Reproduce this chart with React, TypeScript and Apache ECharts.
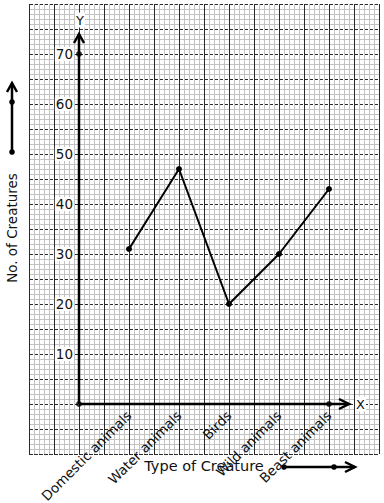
import React, { useEffect, useRef } from "react";
import * as echarts from "echarts";

const categories = ["Domestic animals", "Water animals", "Birds", "Wild animals", "Beast animals"];
const creatureCounts = [31, 47, 20, 30, 43];
const yTickLabels = [10, 20, 30, 40, 50, 60, 70];
const axisMarkerPoints = [[0, 0], [0, 70], [5, 0]];

const FONT = "DejaVu Sans";
const X_MIN = -1;
const X_MAX = 6;
const Y_MIN = -10;
const Y_MAX = 80;
const GRID = { left: 29, right: 5, top: 4, bottom: 49 };
const W = 384;
const H = 503;

export default function App() {
  const ref = useRef<HTMLDivElement>(null);
  useEffect(() => {
    if (!ref.current) return;
    const chart = echarts.init(ref.current, null, { renderer: "svg" });
    const seriesData = categories.map((c, i) => [i + 1, creatureCounts[i]]);
    const plotW = W - GRID.left - GRID.right;
    const plotH = H - GRID.top - GRID.bottom;
    const xAxisOffset = -((0 - Y_MIN) / (Y_MAX - Y_MIN)) * plotH;
    const yAxisOffset = -((0 - X_MIN) / (X_MAX - X_MIN)) * plotW;
    chart.setOption({
      animation: false,
      backgroundColor: "#fff",
      grid: { ...GRID, containLabel: false, outerBoundsMode: "none" },
      xAxis: {
        type: "value",
        min: X_MIN,
        max: X_MAX,
        interval: 0.5,
        position: "bottom",
        offset: xAxisOffset,
        axisLine: { show: false, onZero: false },
        axisTick: { show: false },
        minorTick: { show: false, splitNumber: 5 },
        splitLine: { show: true, lineStyle: { color: "#2a2a2a", width: 1, type: "solid" } },
        minorSplitLine: { show: true, lineStyle: { color: "#c2c2c2", width: 1 } },
        axisLabel: {
          rotate: 45,
          margin: 9,
          fontFamily: FONT,
          fontSize: 13.5,
          color: "#111",
          showMinLabel: true,
          showMaxLabel: true,
          hideOverlap: false,
          formatter: (v: number) => {
            const r = Math.round(v);
            if (Math.abs(v - r) < 1e-6 && r >= 1 && r <= categories.length) return categories[r - 1];
            return "";
          },
        },
      },
      yAxis: {
        type: "value",
        min: Y_MIN,
        max: Y_MAX,
        interval: 5,
        position: "left",
        offset: yAxisOffset,
        axisLine: { show: false, onZero: false },
        axisTick: { show: false },
        minorTick: { show: false, splitNumber: 5 },
        splitLine: { show: true, lineStyle: { color: "#2a2a2a", width: 1, type: [4, 1] } },
        minorSplitLine: { show: true, lineStyle: { color: "#c2c2c2", width: 1 } },
        axisLabel: {
          margin: 5,
          fontFamily: FONT,
          fontSize: 13.5,
          color: "#111",
          backgroundColor: "#fff",
          padding: [0, 1, 0, 1],
          formatter: (v: number) => (yTickLabels.includes(Math.round(v)) && Math.abs(v - Math.round(v)) < 1e-6 ? String(Math.round(v)) : ""),
        },
      },
      series: [
        {
          type: "line",
          data: seriesData,
          symbol: "circle",
          symbolSize: 6,
          itemStyle: { color: "#000" },
          lineStyle: { color: "#000", width: 2 },
          z: 5,
        },
        {
          type: "scatter",
          data: axisMarkerPoints,
          symbol: "circle",
          symbolSize: 6,
          itemStyle: { color: "#000" },
          z: 6,
        },
      ],
    });

    const p = (x: number, y: number) => chart.convertToPixel({ gridIndex: 0 }, [x, y]) as number[];
    const o = p(0, 0);
    const yTop = p(0, 74);
    const xEnd = p(5.4, 0);
    const lineStyle = { stroke: "#000", lineWidth: 2.5, fill: null };
    chart.setOption({
      graphic: [
        { type: "line", shape: { x1: o[0], y1: o[1], x2: yTop[0], y2: yTop[1] }, style: lineStyle, z: 4 },
        { type: "polyline", shape: { points: [[yTop[0] - 5, yTop[1] + 9], [yTop[0], yTop[1]], [yTop[0] + 5, yTop[1] + 9]] }, style: lineStyle, z: 4 },
        { type: "line", shape: { x1: o[0], y1: o[1], x2: xEnd[0], y2: xEnd[1] }, style: lineStyle, z: 4 },
        { type: "polyline", shape: { points: [[xEnd[0] - 10, xEnd[1] - 5], [xEnd[0], xEnd[1]], [xEnd[0] - 10, xEnd[1] + 5]] }, style: lineStyle, z: 4 },
        {
          type: "text", x: yTop[0] + 1, y: yTop[1] - 14, z: 4,
          style: { text: "Y", fontFamily: FONT, fontSize: 13, fill: "#111", align: "center", verticalAlign: "middle", backgroundColor: "#fff", padding: [1, 1] },
        },
        {
          type: "text", x: xEnd[0] + 6, y: xEnd[1], z: 4,
          style: { text: "X", fontFamily: FONT, fontSize: 13, fill: "#111", align: "left", verticalAlign: "middle", backgroundColor: "#fff", padding: [1, 1] },
        },
        {
          type: "text", x: 204, y: 466, z: 4,
          style: { text: "Type of Creature", fontFamily: FONT, fontSize: 14.5, fill: "#111", align: "center", verticalAlign: "middle" },
        },
        {
          type: "text", x: 12, y: 228, rotation: Math.PI / 2, z: 4,
          style: { text: "No. of Creatures", fontFamily: FONT, fontSize: 13.5, fill: "#111", align: "center", verticalAlign: "middle" },
        },
        // scale indicator: vertical
        { type: "line", shape: { x1: 12, y1: 152, x2: 12, y2: 83 }, style: lineStyle, z: 4 },
        { type: "polyline", shape: { points: [[7, 92], [12, 83], [17, 92]] }, style: lineStyle, z: 4 },
        { type: "circle", shape: { cx: 12, cy: 152, r: 2.8 }, style: { fill: "#000" }, z: 4 },
        { type: "circle", shape: { cx: 12, cy: 102, r: 2.8 }, style: { fill: "#000" }, z: 4 },
        // scale indicator: horizontal
        { type: "line", shape: { x1: 284, y1: 467, x2: 355, y2: 467 }, style: lineStyle, z: 4 },
        { type: "polyline", shape: { points: [[345, 462], [355, 467], [345, 472]] }, style: lineStyle, z: 4 },
        { type: "circle", shape: { cx: 284, cy: 467, r: 2.8 }, style: { fill: "#000" }, z: 4 },
        { type: "circle", shape: { cx: 334, cy: 467, r: 2.8 }, style: { fill: "#000" }, z: 4 },
      ],
    });
    return () => chart.dispose();
  }, []);
  return <div ref={ref} style={{ position: "fixed", left: 0, top: 0, width: W, height: H }} />;
}
